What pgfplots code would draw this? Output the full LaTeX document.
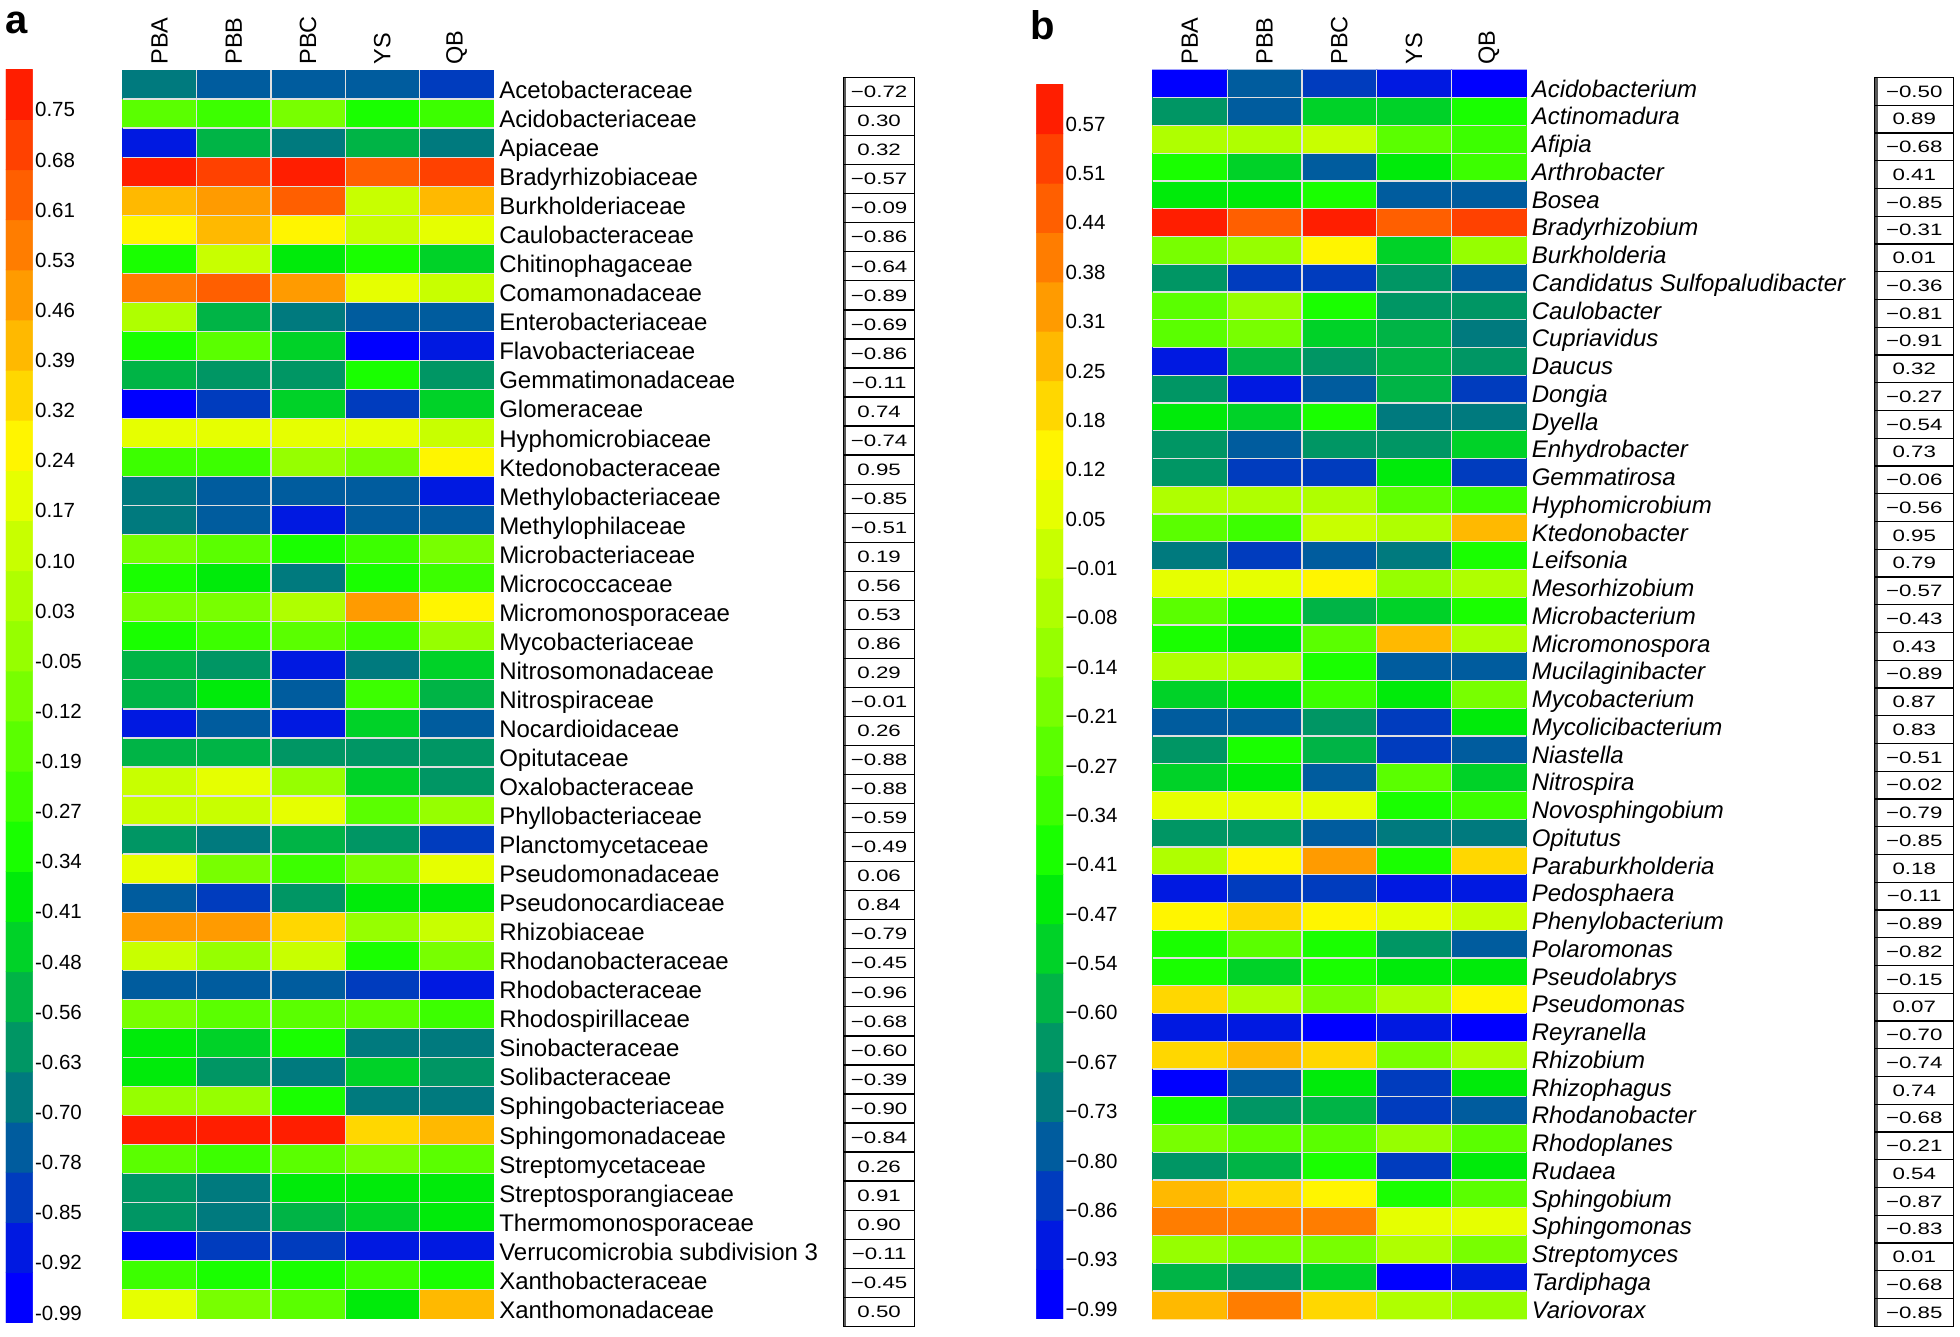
\documentclass[border=0pt]{standalone}
\usepackage{fontspec}
\setmainfont{Liberation Sans}
\usepackage{graphicx}
\usepackage{pgfplots}
\pgfplotsset{compat=1.18}
\tikzset{boxnode/.style={anchor=center, draw=black, line width=0.5pt, inner sep=0pt,
    font=\fontsize{6.6}{7}\selectfont, text=black,
    path picture={\draw[line width=2.4pt, black!65] (path picture bounding box.north west) -- (path picture bounding box.south west);}}}
\pgfplotsset{
  colormap={heat}{rgb255=(0,0,255) rgb255=(0,25,225) rgb255=(0,60,190) rgb255=(0,92,158) rgb255=(0,122,126)
    rgb255=(0,150,100) rgb255=(0,180,70) rgb255=(0,210,40) rgb255=(0,235,10) rgb255=(25,255,0)
    rgb255=(60,255,0) rgb255=(90,255,0) rgb255=(120,255,0) rgb255=(150,255,0) rgb255=(175,255,0)
    rgb255=(200,255,0) rgb255=(230,255,0) rgb255=(255,245,0) rgb255=(255,215,0) rgb255=(255,185,0)
    rgb255=(255,155,0) rgb255=(255,125,0) rgb255=(255,95,0) rgb255=(255,65,0) rgb255=(255,30,0)},
  hm/.style={scale only axis, anchor=north west, enlargelimits=false, axis on top, clip=false,
    colormap name=heat, colormap access=piecewise constant,
    y dir=reverse, xmin=-0.5, xmax=4.5,
    axis line style={draw=none}, major tick length=0pt, minor tick length=0pt,
    xtick={0,...,4}, xticklabels={PBA,PBB,PBC,YS,QB}, xticklabel pos=right,
    xticklabel style={rotate=90, anchor=west, inner sep=0pt, font=\fontsize{9.4}{10}\selectfont},
    xticklabel shift=2pt,
    minor xtick={0.5,1.5,2.5,3.5},
    xminorgrids=true, yminorgrids=true,
    minor grid style={draw=white!88!black, line width=0.5pt},
    yticklabel pos=right,
    yticklabel style={anchor=base west, inner sep=0pt, xshift=2pt, font=\fontsize{9.6}{10}\selectfont}},
  cb/.style={scale only axis, anchor=north west, enlargelimits=false,
    colormap name=heat, colormap access=piecewise constant,
    axis line style={draw=none}, major tick length=0pt, xtick=\empty,
    xmin=-0.5, xmax=1.5, ymin=-0.5, ymax=24.5, ytick={-0.5,0.5,...,23.5},
    yticklabel pos=right,
    yticklabel style={anchor=base west, inner sep=0pt, xshift=0.8pt, yshift=1pt, font=\fontsize{8.2}{9}\selectfont}},
  table/grid5/.style={x expr={\coordindex-5*floor((\coordindex+0.5)/5)}, y expr={floor((\coordindex+0.5)/5)}, meta=v, row sep=\\},
  table/grid2/.style={x expr={\coordindex-2*floor((\coordindex+0.5)/2)}, y expr={floor((\coordindex+0.5)/2)}, meta=v, row sep=\\}
}
\begin{document}
\begin{tikzpicture}
\path[use as bounding box] (0,0) rectangle (784pt,-534.5pt);
% ---------------- panel a ----------------
\node[anchor=base west, inner sep=0pt, font=\fontsize{16}{16}\selectfont\bfseries] at (1.8pt,-13.3pt) {a};
\begin{axis}[cb, at={(2.4pt,-27.75pt)}, width=10.65pt, height=501.25pt,
  point meta min=-0.99, point meta max=0.82,
  yticklabels={-0.99,-0.92,-0.85,-0.78,-0.70,-0.63,-0.56,-0.48,-0.41,-0.34,-0.27,-0.19,-0.12,-0.05,0.03,0.10,0.17,0.24,0.32,0.39,0.46,0.53,0.61,0.68,0.75}]
\addplot[matrix plot*, mesh/cols=2, point meta=explicit] table[grid2]{
v\\ -0.95\\-0.95\\ -0.88\\-0.88\\ -0.81\\-0.81\\ -0.74\\-0.74\\ -0.66\\-0.66\\ -0.59\\-0.59\\ -0.52\\-0.52\\ -0.45\\-0.45\\ -0.38\\-0.38\\ -0.30\\-0.30\\
-0.23\\-0.23\\ -0.16\\-0.16\\ -0.08\\-0.08\\ -0.01\\-0.01\\ 0.06\\0.06\\ 0.13\\0.13\\ 0.20\\0.20\\ 0.28\\0.28\\ 0.35\\0.35\\ 0.42\\0.42\\
0.49\\0.49\\ 0.57\\0.57\\ 0.64\\0.64\\ 0.71\\0.71\\ 0.78\\0.78\\
};
\end{axis}
\begin{axis}[hm, at={(49pt,-28pt)}, width=148.5pt, height=499.5pt,
  ymin=-0.5, ymax=42.5, point meta min=-0.99, point meta max=0.82,
  ytick={0,...,42}, minor ytick={0.5,1.5,...,41.5},
  yticklabel style={yshift=-5.6pt},
  yticklabels={Acetobacteraceae,Acidobacteriaceae,Apiaceae,Bradyrhizobiaceae,Burkholderiaceae,Caulobacteraceae,Chitinophagaceae,Comamonadaceae,Enterobacteriaceae,Flavobacteriaceae,Gemmatimonadaceae,Glomeraceae,Hyphomicrobiaceae,Ktedonobacteraceae,Methylobacteriaceae,Methylophilaceae,Microbacteriaceae,Micrococcaceae,Micromonosporaceae,Mycobacteriaceae,Nitrosomonadaceae,Nitrospiraceae,Nocardioidaceae,Opitutaceae,Oxalobacteraceae,Phyllobacteriaceae,Planctomycetaceae,Pseudomonadaceae,Pseudonocardiaceae,Rhizobiaceae,Rhodanobacteraceae,Rhodobacteraceae,Rhodospirillaceae,Sinobacteraceae,Solibacteraceae,Sphingobacteriaceae,Sphingomonadaceae,Streptomycetaceae,Streptosporangiaceae,Thermomonosporaceae,Verrucomicrobia subdivision 3,Xanthobacteraceae,Xanthomonadaceae}]
\addplot[matrix plot*, mesh/cols=5, point meta=explicit] table[grid5]{
v\\
-0.66\\-0.74\\-0.74\\-0.74\\-0.81\\
-0.16\\-0.23\\-0.08\\-0.30\\-0.23\\
-0.88\\-0.52\\-0.66\\-0.52\\-0.66\\
0.78\\0.71\\0.78\\0.64\\0.71\\
0.42\\0.49\\0.64\\0.13\\0.42\\
0.28\\0.42\\0.28\\0.13\\0.20\\
-0.30\\0.13\\-0.38\\-0.30\\-0.45\\
0.57\\0.64\\0.49\\0.20\\0.13\\
0.06\\-0.52\\-0.66\\-0.74\\-0.74\\
-0.30\\-0.16\\-0.45\\-0.95\\-0.88\\
-0.52\\-0.59\\-0.59\\-0.30\\-0.59\\
-0.95\\-0.81\\-0.45\\-0.81\\-0.45\\
0.20\\0.20\\0.20\\0.20\\0.13\\
-0.23\\-0.23\\-0.01\\-0.08\\0.28\\
-0.66\\-0.74\\-0.74\\-0.74\\-0.88\\
-0.66\\-0.74\\-0.88\\-0.74\\-0.74\\
-0.08\\-0.16\\-0.30\\-0.23\\-0.08\\
-0.30\\-0.38\\-0.66\\-0.30\\-0.23\\
-0.08\\-0.08\\0.06\\0.49\\0.28\\
-0.30\\-0.23\\-0.16\\-0.23\\-0.01\\
-0.52\\-0.59\\-0.88\\-0.66\\-0.45\\
-0.52\\-0.38\\-0.74\\-0.23\\-0.52\\
-0.88\\-0.74\\-0.88\\-0.45\\-0.74\\
-0.52\\-0.52\\-0.59\\-0.59\\-0.59\\
0.13\\0.20\\-0.01\\-0.45\\-0.59\\
0.13\\0.13\\0.20\\-0.16\\-0.01\\
-0.59\\-0.66\\-0.52\\-0.59\\-0.81\\
0.20\\-0.08\\-0.23\\-0.08\\0.20\\
-0.74\\-0.81\\-0.59\\-0.38\\-0.38\\
0.49\\0.49\\0.35\\-0.01\\0.13\\
0.13\\-0.01\\0.13\\-0.30\\-0.08\\
-0.74\\-0.74\\-0.74\\-0.81\\-0.88\\
-0.08\\-0.16\\-0.16\\-0.16\\-0.23\\
-0.38\\-0.45\\-0.30\\-0.66\\-0.66\\
-0.38\\-0.59\\-0.66\\-0.45\\-0.59\\
-0.01\\-0.01\\-0.30\\-0.66\\-0.66\\
0.78\\0.78\\0.78\\0.35\\0.42\\
-0.16\\-0.23\\-0.16\\-0.08\\-0.16\\
-0.59\\-0.66\\-0.38\\-0.38\\-0.38\\
-0.59\\-0.66\\-0.52\\-0.45\\-0.38\\
-0.95\\-0.81\\-0.81\\-0.88\\-0.88\\
-0.23\\-0.30\\-0.30\\-0.23\\-0.30\\
0.20\\-0.08\\-0.16\\-0.38\\0.42\\
};
\addplot[only marks, mark=none, point meta=explicit symbolic,
  nodes near coords={\scalebox{1.35}[1]{\pgfplotspointmeta}},
  nodes near coords style={boxnode, minimum width=28.5pt, minimum height=11.62pt}]
  table[x expr={9.69}, y expr={\coordindex+0.26}, meta=l, row sep=\\]{
l\\ −0.72\\ 0.30\\ 0.32\\ −0.57\\ −0.09\\ −0.86\\ −0.64\\ −0.89\\ −0.69\\ −0.86\\ −0.11\\ 0.74\\ −0.74\\ 0.95\\ −0.85\\ −0.51\\ 0.19\\ 0.56\\ 0.53\\ 0.86\\ 0.29\\ −0.01\\
0.26\\ −0.88\\ −0.88\\ −0.59\\ −0.49\\ 0.06\\ 0.84\\ −0.79\\ −0.45\\ −0.96\\ −0.68\\ −0.60\\ −0.39\\ −0.90\\ −0.84\\ 0.26\\ 0.91\\ 0.90\\ −0.11\\ −0.45\\ 0.50\\
};
\end{axis}
% ---------------- panel b ----------------
\node[anchor=base west, inner sep=0pt, font=\fontsize{16}{16}\selectfont\bfseries] at (412pt,-16pt) {b};
\begin{axis}[cb, at={(414.5pt,-33.75pt)}, width=10.75pt, height=493.75pt,
  point meta min=-0.99, point meta max=0.635,
  yticklabels={−0.99,−0.93,−0.86,−0.80,−0.73,−0.67,−0.60,−0.54,−0.47,−0.41,−0.34,−0.27,−0.21,−0.14,−0.08,−0.01,0.05,0.12,0.18,0.25,0.31,0.38,0.44,0.51,0.57}]
\addplot[matrix plot*, mesh/cols=2, point meta=explicit] table[grid2]{
v\\ -0.96\\-0.96\\ -0.89\\-0.89\\ -0.83\\-0.83\\ -0.76\\-0.76\\ -0.70\\-0.70\\ -0.63\\-0.63\\ -0.57\\-0.57\\ -0.50\\-0.50\\ -0.44\\-0.44\\ -0.37\\-0.37\\
-0.31\\-0.31\\ -0.24\\-0.24\\ -0.18\\-0.18\\ -0.11\\-0.11\\ -0.05\\-0.05\\ 0.02\\0.02\\ 0.08\\0.08\\ 0.15\\0.15\\ 0.21\\0.21\\ 0.28\\0.28\\
0.34\\0.34\\ 0.41\\0.41\\ 0.47\\0.47\\ 0.54\\0.54\\ 0.60\\0.60\\
};
\end{axis}
\begin{axis}[hm, at={(461pt,-28pt)}, width=149.5pt, height=499.5pt,
  ymin=-0.5, ymax=44.5, point meta min=-0.99, point meta max=0.635,
  ytick={0,...,44}, minor ytick={0.5,1.5,...,43.5},
  yticklabel style={yshift=-5.3pt, font=\itshape\fontsize{9.6}{10}\selectfont},
  yticklabels={Acidobacterium,Actinomadura,Afipia,Arthrobacter,Bosea,Bradyrhizobium,Burkholderia,Candidatus Sulfopaludibacter,Caulobacter,Cupriavidus,Daucus,Dongia,Dyella,Enhydrobacter,Gemmatirosa,Hyphomicrobium,Ktedonobacter,Leifsonia,Mesorhizobium,Microbacterium,Micromonospora,Mucilaginibacter,Mycobacterium,Mycolicibacterium,Niastella,Nitrospira,Novosphingobium,Opitutus,Paraburkholderia,Pedosphaera,Phenylobacterium,Polaromonas,Pseudolabrys,Pseudomonas,Reyranella,Rhizobium,Rhizophagus,Rhodanobacter,Rhodoplanes,Rudaea,Sphingobium,Sphingomonas,Streptomyces,Tardiphaga,Variovorax}]
\addplot[matrix plot*, mesh/cols=5, point meta=explicit] table[grid5]{
v\\
-0.96\\-0.76\\-0.83\\-0.89\\-0.96\\
-0.63\\-0.76\\-0.50\\-0.50\\-0.37\\
-0.05\\-0.05\\0.02\\-0.24\\-0.31\\
-0.37\\-0.50\\-0.76\\-0.44\\-0.31\\
-0.44\\-0.44\\-0.37\\-0.76\\-0.76\\
0.60\\0.47\\0.60\\0.47\\0.54\\
-0.18\\-0.11\\0.15\\-0.50\\-0.11\\
-0.63\\-0.83\\-0.83\\-0.63\\-0.76\\
-0.24\\-0.11\\-0.37\\-0.63\\-0.63\\
-0.24\\-0.18\\-0.50\\-0.57\\-0.70\\
-0.89\\-0.57\\-0.63\\-0.57\\-0.63\\
-0.63\\-0.89\\-0.76\\-0.57\\-0.83\\
-0.44\\-0.50\\-0.37\\-0.70\\-0.70\\
-0.63\\-0.76\\-0.63\\-0.63\\-0.50\\
-0.63\\-0.83\\-0.83\\-0.44\\-0.83\\
-0.05\\-0.05\\-0.05\\-0.24\\-0.31\\
-0.24\\-0.31\\0.02\\-0.05\\0.28\\
-0.70\\-0.83\\-0.76\\-0.70\\-0.37\\
0.08\\0.08\\0.15\\-0.11\\-0.05\\
-0.24\\-0.37\\-0.57\\-0.50\\-0.37\\
-0.37\\-0.44\\-0.24\\0.28\\-0.05\\
-0.05\\-0.05\\-0.37\\-0.76\\-0.76\\
-0.50\\-0.44\\-0.31\\-0.44\\-0.18\\
-0.76\\-0.76\\-0.63\\-0.83\\-0.44\\
-0.63\\-0.37\\-0.57\\-0.83\\-0.76\\
-0.50\\-0.44\\-0.76\\-0.24\\-0.50\\
0.08\\0.08\\0.08\\-0.37\\-0.31\\
-0.63\\-0.63\\-0.76\\-0.70\\-0.70\\
-0.05\\0.15\\0.34\\-0.37\\0.21\\
-0.89\\-0.83\\-0.83\\-0.89\\-0.89\\
0.15\\0.21\\0.15\\0.08\\0.02\\
-0.37\\-0.24\\-0.37\\-0.63\\-0.76\\
-0.37\\-0.50\\-0.37\\-0.44\\-0.44\\
0.21\\-0.05\\-0.18\\-0.05\\0.15\\
-0.89\\-0.89\\-0.96\\-0.89\\-0.96\\
0.21\\0.28\\0.21\\-0.18\\-0.05\\
-0.96\\-0.76\\-0.44\\-0.83\\-0.44\\
-0.37\\-0.63\\-0.57\\-0.83\\-0.76\\
-0.18\\-0.24\\-0.24\\-0.11\\-0.24\\
-0.63\\-0.57\\-0.37\\-0.83\\-0.44\\
0.28\\0.21\\0.15\\-0.37\\-0.24\\
0.41\\0.41\\0.41\\0.08\\0.08\\
-0.11\\-0.18\\-0.18\\-0.05\\-0.18\\
-0.57\\-0.63\\-0.50\\-0.96\\-0.89\\
0.28\\0.41\\0.21\\-0.05\\-0.11\\
};
\addplot[only marks, mark=none, point meta=explicit symbolic,
  nodes near coords={\scalebox{1.35}[1]{\pgfplotspointmeta}},
  nodes near coords style={boxnode, minimum width=31.5pt, minimum height=11.1pt}]
  table[x expr={9.69}, y expr={\coordindex+0.27}, meta=l, row sep=\\]{
l\\ −0.50\\ 0.89\\ −0.68\\ 0.41\\ −0.85\\ −0.31\\ 0.01\\ −0.36\\ −0.81\\ −0.91\\ 0.32\\ −0.27\\ −0.54\\ 0.73\\ −0.06\\ −0.56\\ 0.95\\ 0.79\\ −0.57\\ −0.43\\ 0.43\\ −0.89\\ 0.87\\
0.83\\ −0.51\\ −0.02\\ −0.79\\ −0.85\\ 0.18\\ −0.11\\ −0.89\\ −0.82\\ −0.15\\ 0.07\\ −0.70\\ −0.74\\ 0.74\\ −0.68\\ −0.21\\ 0.54\\ −0.87\\ −0.83\\ 0.01\\ −0.68\\ −0.85\\
};
\end{axis}
\end{tikzpicture}
\end{document}
